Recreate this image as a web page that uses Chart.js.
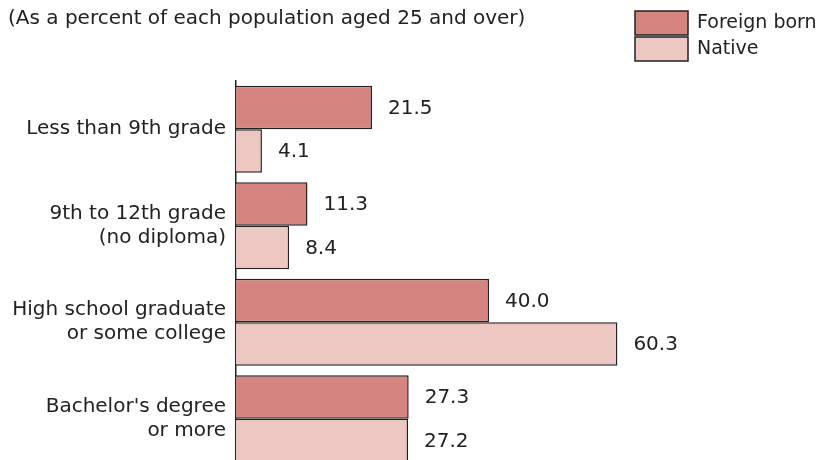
<!DOCTYPE html>
<html>
<head>
<meta charset="utf-8">
<script src="https://cdn.jsdelivr.net/npm/chart.js@4"></script>
<style>
  html, body { margin: 0; padding: 0; background: #fff; overflow: hidden; }
</style>
</head>
<body>
<canvas id="c" width="826" height="467"></canvas>
<script>
// categorii si valori
const categories = [
  'Less than 9th grade',
  ['9th to 12th grade', '(no diploma)'],
  ['High school graduate', 'or some college'],
  ["Bachelor's degree", 'or more']
];
const foreignBorn = [21.5, 11.3, 40.0, 27.3];
const native = [4.1, 8.4, 60.3, 27.2];
const seriesNames = ['Foreign born', 'Native'];
const subtitle = '(As a percent of each population aged 25 and over)';

const palette = { foreign: '#D58480', native: '#EDC8C3', ink: '#222222', text: '#222222' };
const FONT = 'DejaVu Sans';
const FS = 20;

// etichete valori la capatul barelor
const valueLabels = {
  id: 'valueLabels',
  afterDatasetsDraw(chart) {
    const ctx = chart.ctx;
    ctx.save();
    ctx.font = `${FS}px "${FONT}"`;
    ctx.fillStyle = palette.text;
    ctx.textBaseline = 'middle';
    ctx.textAlign = 'left';
    chart.data.datasets.forEach((ds, di) => {
      chart.getDatasetMeta(di).data.forEach((bar, i) => {
        ctx.fillText(ds.data[i].toFixed(1), bar.x + 16, bar.y + 1);
      });
    });
    ctx.restore();
  }
};

// subtitlu + legenda verticala in dreapta sus
const header = {
  id: 'header',
  afterDraw(chart) {
    const ctx = chart.ctx;
    ctx.save();
    ctx.font = `${FS}px "${FONT}"`;
    ctx.fillStyle = palette.text;
    ctx.textBaseline = 'middle';
    ctx.textAlign = 'left';
    ctx.fillText(subtitle, 8, 19);
    ctx.font = `19px "${FONT}"`;
    chart.data.datasets.forEach((ds, i) => {
      const y = 11 + i * 26;
      ctx.fillStyle = ds.backgroundColor;
      ctx.fillRect(635, y, 53, 24);
      ctx.strokeStyle = palette.ink;
      ctx.lineWidth = 1.5;
      ctx.strokeRect(635, y, 53, 24);
      ctx.fillStyle = palette.text;
      ctx.fillText(ds.label, 697, y + 12);
    });
    ctx.restore();
  }
};

new Chart(document.getElementById('c'), {
  type: 'bar',
  data: {
    labels: categories,
    datasets: [
      { label: seriesNames[0], data: foreignBorn, backgroundColor: palette.foreign, borderColor: palette.ink, borderWidth: 1.5 },
      { label: seriesNames[1], data: native, backgroundColor: palette.native, borderColor: palette.ink, borderWidth: 1.5 }
    ]
  },
  options: {
    indexAxis: 'y',
    responsive: false,
    animation: false,
    layout: { padding: { top: 81, right: 84, bottom: 0, left: 0 } },
    datasets: { bar: { barPercentage: 1, categoryPercentage: 0.9, borderSkipped: 'left' } },
    plugins: { legend: { display: false }, tooltip: { enabled: false }, title: { display: false } },
    scales: {
      x: { display: false, min: 0, max: 80 },
      y: {
        afterFit: s => { s.width = 236; s.paddingTop = 0; s.paddingBottom = 0; },
        grid: { display: false, drawTicks: false },
        border: { display: true, color: palette.ink, width: 1.5 },
        ticks: { padding: 10, color: palette.text, font: { family: FONT, size: FS, lineHeight: 1.2 } }
      }
    }
  },
  plugins: [valueLabels, header]
});
</script>
</body>
</html>
